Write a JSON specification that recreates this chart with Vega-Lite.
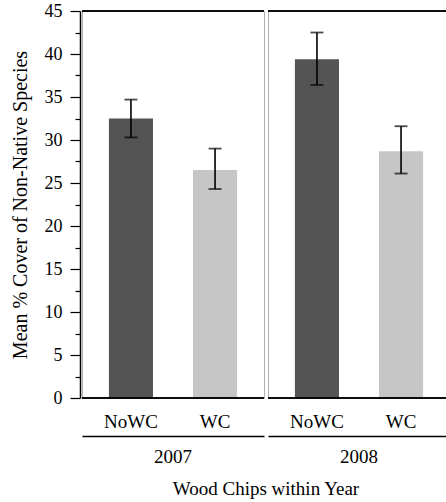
{
  "$schema": "https://vega.github.io/schema/vega-lite/v6.json",
  "padding": {"left": 10, "top": 2, "right": 0, "bottom": 0},
  "data": {
    "values": [
      {"year": "2007", "treatment": "NoWC", "mean": 32.5, "lo": 30.3, "hi": 34.7},
      {"year": "2007", "treatment": "WC", "mean": 26.5, "lo": 24.3, "hi": 29.0},
      {"year": "2008", "treatment": "NoWC", "mean": 39.4, "lo": 36.4, "hi": 42.5},
      {"year": "2008", "treatment": "WC", "mean": 28.7, "lo": 26.1, "hi": 31.6}
    ]
  },
  "facet": {
    "column": {
      "field": "year",
      "type": "ordinal",
      "title": "Wood Chips within Year",
      "header": {
        "labelOrient": "bottom",
        "titleOrient": "bottom",
        "labelFont": "Liberation Serif",
        "labelFontSize": 19,
        "labelColor": "black",
        "labelPadding": 12,
        "titleFont": "Liberation Serif",
        "titleFontSize": 19,
        "titleFontWeight": "normal",
        "titleColor": "black",
        "titlePadding": 3
      }
    }
  },
  "spacing": 0,
  "spec": {
    "width": 182,
    "height": 387,
    "encoding": {
      "x": {
        "field": "treatment",
        "type": "nominal",
        "scale": {"paddingInner": 0.476, "paddingOuter": 0.32},
        "axis": {
          "title": null,
          "labelAngle": 0,
          "offset": 36,
          "ticks": false,
          "tickSize": 0,
          "labelPadding": -15,
          "labelBaseline": "middle",
          "labelFontSize": 19,
          "domainWidth": 1.5
        }
      }
    },
    "layer": [
      {
        "mark": {"type": "bar"},
        "encoding": {
          "y": {
            "field": "mean",
            "type": "quantitative",
            "scale": {"domain": [0, 45], "nice": false},
            "axis": {
              "title": "Mean % Cover of Non-Native Species",
              "values": [0, 2.5, 5, 7.5, 10, 12.5, 15, 17.5, 20, 22.5, 25, 27.5, 30, 32.5, 35, 37.5, 40, 42.5, 45],
              "tickCount": 25,
              "labelOverlap": false,
              "labelExpr": "datum.value % 5 === 0 ? datum.label : ''",
              "tickSize": {"condition": {"test": "datum.value % 5 === 0", "value": 10}, "value": 5},
              "labelPadding": 8,
              "labelFontSize": 18,
              "titleFontSize": 20,
              "titlePadding": 14,
              "grid": false,
              "domainWidth": 1.5,
              "tickWidth": 1.2,
              "tickColor": "black"
            }
          },
          "color": {
            "field": "treatment",
            "type": "nominal",
            "scale": {"domain": ["NoWC", "WC"], "range": ["#545454", "#c6c6c6"]},
            "legend": null
          }
        }
      },
      {
        "mark": {"type": "rule", "color": "black", "strokeWidth": 1.6},
        "encoding": {
          "y": {"field": "lo", "type": "quantitative"},
          "y2": {"field": "hi"}
        }
      },
      {
        "mark": {"type": "tick", "color": "black", "size": 13, "thickness": 1.8},
        "encoding": {"y": {"field": "hi", "type": "quantitative"}}
      },
      {
        "mark": {"type": "tick", "color": "black", "size": 13, "thickness": 1.8},
        "encoding": {"y": {"field": "lo", "type": "quantitative"}}
      },
      {
        "mark": {"type": "rule", "color": "black", "strokeWidth": 1.5},
        "encoding": {"y": {"datum": 45}, "x": null}
      },
      {
        "mark": {"type": "rule", "color": "black", "strokeWidth": 1.5},
        "encoding": {"y": {"datum": 0}, "x": null}
      }
    ]
  },
  "config": {
    "view": {"stroke": "#b0b0b0", "strokeWidth": 1},
    "axis": {
      "labelFont": "Liberation Serif",
      "labelColor": "black",
      "titleFont": "Liberation Serif",
      "titleColor": "black",
      "titleFontWeight": "normal",
      "domainColor": "black"
    },
    "font": "Liberation Serif"
  }
}
